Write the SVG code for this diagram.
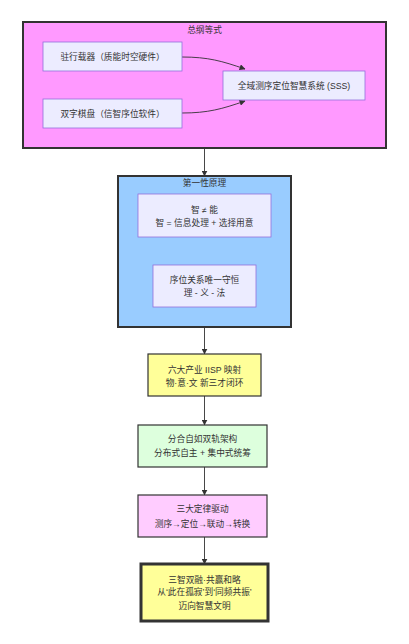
<svg xmlns="http://www.w3.org/2000/svg" width="409" height="644" viewBox="0 0 409 644">
<style>
text{font-family:"Liberation Sans","Noto Sans CJK SC",sans-serif;font-size:8.7px;fill:#333;text-anchor:middle;dominant-baseline:central}
.cl{stroke:#333;stroke-width:2}
.nd{fill:#ECECFF;stroke:#9370DB;stroke-width:0.8}
.ed{fill:none;stroke:#333;stroke-width:0.9}
</style>
<defs>
<marker id="ah" viewBox="0 0 10 10" refX="9" refY="5" markerWidth="6" markerHeight="6" markerUnits="userSpaceOnUse" orient="auto">
<path d="M0,0 L10,5 L0,10 z" fill="#333"/>
</marker>
</defs>
<rect width="409" height="644" fill="#ffffff"/>
<g id="cluster-zonggang">
<rect class="cl" x="23" y="22" width="363" height="126" fill="#ff99ff"/>
<text x="204.5" y="30">总纲等式</text>
</g>
<g id="cluster-diyi">
<rect class="cl" x="118" y="176" width="173" height="151" fill="#99ccff"/>
<text x="204.5" y="183">第一性原理</text>
</g>
<g id="connectors">
<path class="ed" d="M182,57 C208,57 222,61 245,69" marker-end="url(#ah)"/>
<path class="ed" d="M182,113 C208,113 222,109 245,101" marker-end="url(#ah)"/>
<path class="ed" d="M204.5,148 L204.5,176" marker-end="url(#ah)"/>
<path class="ed" d="M204.5,327 L204.5,354" marker-end="url(#ah)"/>
<path class="ed" d="M204.5,396 L204.5,425" marker-end="url(#ah)"/>
<path class="ed" d="M204.5,467 L204.5,495" marker-end="url(#ah)"/>
<path class="ed" d="M204.5,537 L204.5,564" marker-end="url(#ah)"/>
</g>
<g id="node-zhuxing">
<rect class="nd" x="43" y="42" width="139" height="29"/>
<text x="112.5" y="56.5">驻行载器（质能时空硬件）</text>
</g>
<g id="node-shuangzi">
<rect class="nd" x="43" y="99" width="139" height="29"/>
<text x="112.5" y="113.5">双字棋盘（信智序位软件）</text>
</g>
<g id="node-sss">
<rect class="nd" x="223" y="71" width="142" height="29"/>
<text x="294" y="85.5">全域测序定位智慧系统 (SSS)</text>
</g>
<g id="node-zhi">
<rect class="nd" x="138" y="194" width="133" height="43"/>
<text x="204.5" y="210">智 ≠ 能</text>
<text x="204.5" y="223">智 = 信息处理 + 选择用意</text>
</g>
<g id="node-xuwei">
<rect class="nd" x="153" y="265" width="103" height="42"/>
<text x="204.5" y="280">序位关系唯一守恒</text>
<text x="204.5" y="293">理 - 义 - 法</text>
</g>
<g id="node-iisp">
<rect x="148" y="354" width="113" height="42" fill="#ffff99" stroke="#333" stroke-width="1.2"/>
<text x="204.5" y="369.5">六大产业 IISP 映射</text>
<text x="204.5" y="382.5">物·意·文 新三才闭环</text>
</g>
<g id="node-fenhe">
<rect x="138" y="425" width="129" height="42" fill="#ddffdd" stroke="#333" stroke-width="1.2"/>
<text x="202.5" y="438.5">分合自如双轨架构</text>
<text x="202.5" y="453">分布式自主 + 集中式统筹</text>
</g>
<g id="node-sanda">
<rect x="138" y="495" width="129" height="42" fill="#ffccff" stroke="#333" stroke-width="1.2"/>
<text x="202.5" y="508.5">三大定律驱动</text>
<text x="202.5" y="524">测序→定位→联动→转换</text>
</g>
<g id="node-sanzhi">
<rect x="141" y="564" width="127" height="57" fill="#ffff99" stroke="#333" stroke-width="3"/>
<text x="204.5" y="580">三智双融·共赢和略</text>
<text x="204.5" y="592">从‘此在孤寂’到‘同频共振’</text>
<text x="204.5" y="606">迈向智慧文明</text>
</g>
</svg>
